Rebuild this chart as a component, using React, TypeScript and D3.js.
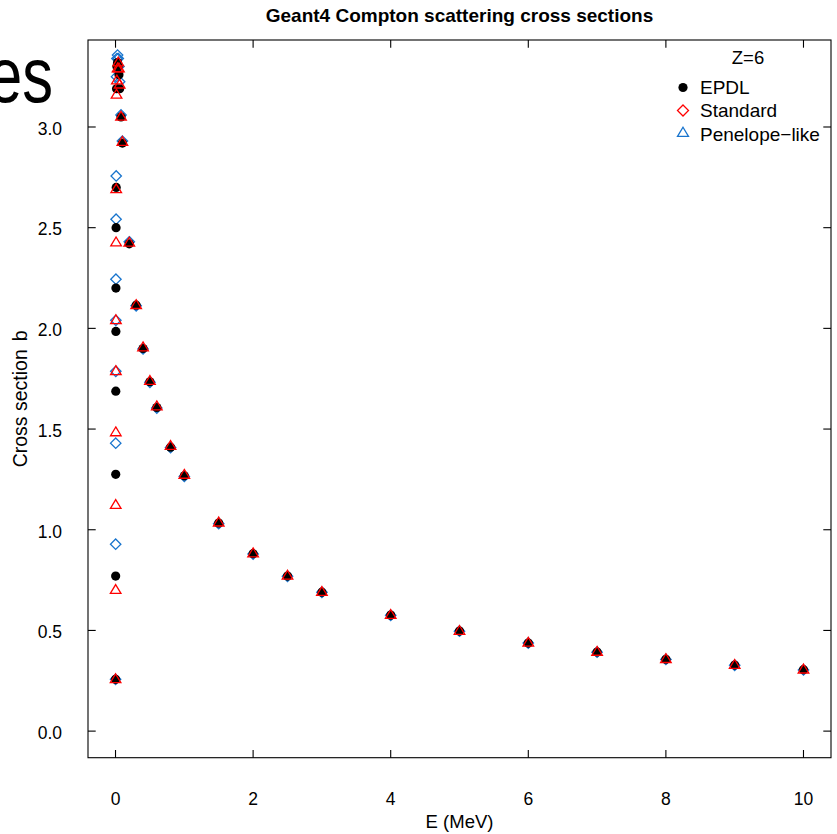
import React from "react";
import * as d3 from "d3";

const energies = [0.001, 0.002, 0.003, 0.004, 0.005, 0.006, 0.008, 0.01, 0.015, 0.02, 0.03, 0.04, 0.05, 0.06, 0.08, 0.1, 0.2, 0.3, 0.4, 0.5, 0.6, 0.8, 1, 1.5, 2, 2.5, 3, 4, 5, 6, 7, 8, 9, 10];
const epdl = [0.257, 0.770, 1.275, 1.688, 1.985, 2.200, 2.500, 2.700, 3.190, 3.300, 3.320, 3.300, 3.260, 3.190, 3.050, 2.920, 2.420, 2.115, 1.900, 1.735, 1.607, 1.410, 1.268, 1.033, 0.881, 0.770, 0.690, 0.576, 0.497, 0.437, 0.393, 0.357, 0.328, 0.305];
const standard = [0.257, 0.700, 1.122, 1.483, 1.787, 2.040, 2.426, 2.690, 3.160, 3.230, 3.290, 3.320, 3.290, 3.210, 3.050, 2.925, 2.425, 2.115, 1.905, 1.738, 1.612, 1.415, 1.272, 1.035, 0.882, 0.771, 0.690, 0.576, 0.497, 0.438, 0.393, 0.357, 0.328, 0.305];
const penelope = [0.257, 0.928, 1.430, 1.787, 2.040, 2.244, 2.542, 2.757, 3.250, 3.340, 3.357, 3.340, 3.300, 3.225, 3.060, 2.930, 2.430, 2.112, 1.898, 1.732, 1.604, 1.408, 1.265, 1.030, 0.879, 0.769, 0.689, 0.575, 0.496, 0.437, 0.392, 0.356, 0.327, 0.304];
const xTicks = [0, 2, 4, 6, 8, 10];
const yTicks = [0.0, 0.5, 1.0, 1.5, 2.0, 2.5, 3.0];
const legendLabels = ["EPDL", "Standard", "Penelope\u2212like"];

const FONT = "'Liberation Sans', Arial, Helvetica, sans-serif";
const BLUE = "#1874CD";
const RED = "#FF0000";

const L = 88, R = 831, T = 40, B = 757.7;

const x = d3.scaleLinear().domain([-0.4, 10.4]).range([L, R]);
const y = d3.scaleLinear().domain([-0.132, 3.432]).range([B, T]);

const diamond = (cx: number, cy: number, r = 5.2) =>
  `M${cx},${cy - r}L${cx + r},${cy}L${cx},${cy + r}L${cx - r},${cy}Z`;
const triangle = (cx: number, cy: number, s = 5.3) =>
  `M${cx},${cy - s * 1.05}L${cx + s},${cy + s * 0.62}L${cx - s},${cy + s * 0.62}Z`;

export default function App() {
  const tl = 7.7;
  return (
    <svg width={837} height={834} style={{ position: "absolute", left: 0, top: 0, background: "#fff" }} fontFamily={FONT}>
      <rect x={0} y={0} width={837} height={834} fill="#fff" />
      {/* overlay text fragment */}
      <text transform="translate(53,101.5) scale(0.8,1)" textAnchor="end" fontSize={77} fill="#000">es</text>
      <text x={(L + R) / 2} y={21.7} textAnchor="middle" fontSize={19} fontWeight="bold">Geant4 Compton scattering cross sections</text>

      {/* points */}
      <g>
        {energies.map((e, i) => (
          <path key={"p" + i} d={diamond(x(e), y(penelope[i]))} fill="none" stroke={BLUE} strokeWidth={1.3} />
        ))}
        {energies.map((e, i) => (
          <circle key={"e" + i} cx={x(e)} cy={y(epdl[i])} r={4.6} fill="#000" />
        ))}
        {energies.map((e, i) => (
          <path key={"s" + i} d={triangle(x(e), y(standard[i]))} fill="none" stroke={RED} strokeWidth={1.3} />
        ))}
      </g>

      {/* frame */}
      <rect x={L} y={T} width={R - L} height={B - T} fill="none" stroke="#000" strokeWidth={1.1} />
      {xTicks.map((t) => (
        <g key={"xt" + t}>
          <line x1={x(t)} x2={x(t)} y1={B} y2={B - tl} stroke="#000" strokeWidth={1.1} />
          <line x1={x(t)} x2={x(t)} y1={T} y2={T + tl} stroke="#000" strokeWidth={1.1} />
          <text x={x(t)} y={805} textAnchor="middle" fontSize={17.5}>{t}</text>
        </g>
      ))}
      {yTicks.map((t) => (
        <g key={"yt" + t}>
          <line x1={L} x2={L + tl} y1={y(t)} y2={y(t)} stroke="#000" strokeWidth={1.1} />
          <line x1={R} x2={R - tl} y1={y(t)} y2={y(t)} stroke="#000" strokeWidth={1.1} />
          <text x={62} y={y(t) + 7.8} textAnchor="end" fontSize={17.5}>{t.toFixed(1)}</text>
        </g>
      ))}
      <text x={(L + R) / 2} y={828} textAnchor="middle" fontSize={18.5}>E (MeV)</text>
      <text transform={`translate(27,${(T + B) / 2}) rotate(-90)`} textAnchor="middle" fontSize={19.5}>
        <tspan>Cross section</tspan>
        <tspan dx={8}>b</tspan>
      </text>

      {/* legend */}
      <text x={748} y={64} textAnchor="middle" fontSize={18.5}>Z=6</text>
      <circle cx={683} cy={87.5} r={4.6} fill="#000" />
      <path d={diamond(683, 110.5, 5.5)} fill="none" stroke={RED} strokeWidth={1.3} />
      <path d={triangle(683, 133, 5.5)} fill="none" stroke={BLUE} strokeWidth={1.3} />
      {legendLabels.map((lab, i) => (
        <text key={lab} x={700} y={94 + i * 23.3} fontSize={19}>{lab}</text>
      ))}
    </svg>
  );
}
